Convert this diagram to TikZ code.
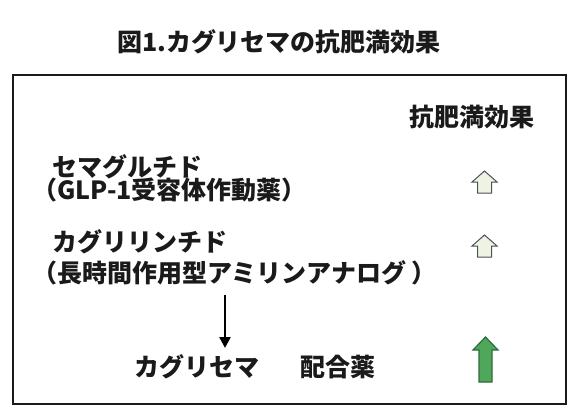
\documentclass[tikz,border=0pt]{standalone}
\usepackage{fontspec}
\setmainfont{Noto Sans CJK JP}
\usetikzlibrary{arrows.meta}
\definecolor{inkgray}{HTML}{1A1A1A}
\definecolor{arrowgray}{HTML}{4A5058}
\definecolor{palegreen}{HTML}{EEF3E3}
\definecolor{midgreen}{HTML}{4EA75B}
\definecolor{darkgreen}{HTML}{2F6B3C}
\begin{document}
\begin{tikzpicture}[x=1pt,y=-1pt,
  txt/.style={anchor=west,inner sep=0pt,text=inkgray,font=\fontsize{25}{29}\selectfont\bfseries},
  weakup/.style={draw=arrowgray,fill=palegreen,line width=1pt},
  strongup/.style={draw=darkgreen,fill=midgreen,line width=1.2pt}]
\useasboundingbox (0,0) rectangle (579,416);
\pgfmathsetmacro{\hw}{12.5}
\pgfmathsetmacro{\sw}{7}
\pgfmathsetmacro{\hh}{11}
%title
\node[txt,anchor=center] (title) at (279,42) {図1.カグリセマの抗肥満効果};
%frame
\draw[line width=1.8pt,draw=inkgray] (13,75) rectangle (566,404);
%column head
\node[txt] (effect) at (409,117) {抗肥満効果};
%drugs
\node[txt] (sema) at (52,167) {セマグルチド};
\node[txt] (semanote) at (32,190) {（GLP-1受容体作動薬）};
\node[txt] (cagri) at (52,242) {カグリリンチド};
\node[txt] (cagrinote) at (32,273) {（長時間作用型アミリンアナログ ）};
\node[txt] (combo) at (134,367) {カグリセマ};
\node[txt] (mix) at (300,367) {配合薬};
%down arrow
\coordinate (arrtop) at (225,295);
\coordinate (arrbot) at (225,348);
\draw[line width=2.4pt,-{Triangle[width=11pt,length=11pt]}] (arrtop) -- (arrbot);
%effect arrows
\draw[weakup] (484.5,171)--++(\hw,\hh)--++(-\hw+\sw,0)--++(0,\hh)--++(-2*\sw,0)--++(0,-\hh)--++(-\hw+\sw,0)--cycle;
\draw[weakup] (484.5,235)--++(\hw,\hh)--++(-\hw+\sw,0)--++(0,\hh)--++(-2*\sw,0)--++(0,-\hh)--++(-\hw+\sw,0)--cycle;
\draw[strongup] (485.5,337)--++(\hw,13)--++(-\hw+6.5,0)--++(0,32)--++(-13,0)--++(0,-32)--++(-\hw+6.5,0)--cycle;
\end{tikzpicture}
\end{document}
